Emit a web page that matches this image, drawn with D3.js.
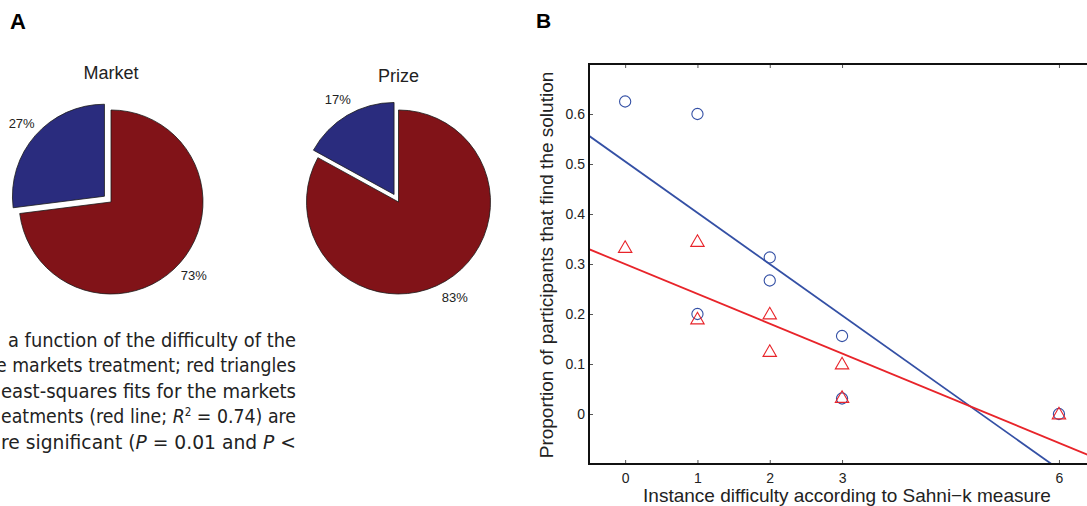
<!DOCTYPE html>
<html>
<head>
<meta charset="utf-8">
<script src="https://cdn.jsdelivr.net/npm/d3@7"></script>
<style>
  body { margin: 0; background: #fff; }
  svg { display: block; font-family: "Liberation Sans", Arial, sans-serif; }
</style>
</head>
<body>
<script>
// panel A: share of participants (blue = found solution, red = did not)
const pieNames = ["Market", "Prize"];
const foundShare = [27, 17];
const notFoundShare = [73, 83];

// panel B: proportion finding the solution vs instance difficulty
const marketDifficulty = [0, 1, 1, 2, 2, 3, 3, 6];
const marketProportion = [0.625, 0.6, 0.2, 0.313, 0.267, 0.156, 0.031, 0];
const prizeDifficulty = [0, 1, 1, 2, 2, 3, 3, 6];
const prizeProportion = [0.333, 0.345, 0.19, 0.2, 0.125, 0.1, 0.033, 0];
// least-squares lines: [intercept, slope]
const marketFit = [0.505, -0.1026];
const prizeFit = [0.2998, -0.0596];

const xTicks = [0, 1, 2, 3, 6];
const yTicks = [0, 0.1, 0.2, 0.3, 0.4, 0.5, 0.6];

const captionLines = [
  "a function of the difficulty of the",
  "e markets treatment; red triangles",
  "east-squares fits for the markets",
  "eatments (red line; R² = 0.74) are",
  "re significant (P = 0.01 and P <"
];

const W = 1087, H = 506;
const svg = d3.select("body").append("svg")
    .attr("width", W)
    .attr("height", H);

svg.append("rect").attr("width", W).attr("height", H).attr("fill", "#fff");

// ---------- panel letters ----------
svg.append("text").attr("x", 10).attr("y", 29)
    .attr("font-size", "22px").attr("font-weight", "bold").text("A");
svg.append("text").attr("x", 536).attr("y", 28)
    .attr("font-size", "21px").attr("font-weight", "bold").text("B");

// ---------- pies ----------
const radius = 92;
const pieCenters = [[111, 202], [398.5, 202]];
const titleY = [79, 82];
const pieColors = ["#811318", "#2a2c7e"];
const explode = 0.095 * radius;

const pie = d3.pie().sort(null);
const arc = d3.arc().innerRadius(0).outerRadius(radius);

pieNames.forEach((name, i) => {
    const [cx, cy] = pieCenters[i];
    const g = svg.append("g").attr("transform", `translate(${cx},${cy})`);
    const arcs = pie([notFoundShare[i], foundShare[i]]);

    arcs.forEach((a, j) => {
        const mid = (a.startAngle + a.endAngle) / 2;
        const off = j === 1 ? explode : 0;
        const dx = Math.sin(mid) * off, dy = -Math.cos(mid) * off;
        g.append("path")
            .attr("d", arc(a))
            .attr("transform", `translate(${dx},${dy})`)
            .attr("fill", pieColors[j])
            .attr("stroke", "#1a1a1a")
            .attr("stroke-width", 0.8);

        const lr = radius * 1.2 + off;
        g.append("text")
            .attr("x", Math.sin(mid) * lr)
            .attr("y", -Math.cos(mid) * lr)
            .attr("dy", "0.35em")
            .attr("text-anchor", "middle")
            .attr("font-size", "13px")
            .attr("fill", "#222")
            .text(`${a.data}%`);
    });

    svg.append("text")
        .attr("x", cx).attr("y", titleY[i])
        .attr("text-anchor", "middle")
        .attr("font-size", "18px")
        .attr("fill", "#222")
        .text(name);
});

// ---------- caption fragment ----------
const capStart = [8, -4, 1, 1, 1];
captionLines.forEach((line, i) => {
    const t = svg.append("text")
        .attr("x", capStart[i])
        .attr("y", 347 + i * 25.4)
        .attr("font-family", "'DejaVu Sans', sans-serif")
        .attr("font-size", "20px")
        .attr("fill", "#222")
        .attr("textLength", 296 - capStart[i])
        .attr("lengthAdjust", "spacingAndGlyphs");
    if (i === 3) {
        t.append("tspan").text("eatments (red line; ");
        t.append("tspan").attr("font-style", "italic").text("R");
        t.append("tspan").attr("baseline-shift", "super").attr("font-size", "12px").text("2");
        t.append("tspan").text(" = 0.74) are");
    } else if (i === 4) {
        t.append("tspan").text("re significant (");
        t.append("tspan").attr("font-style", "italic").text("P");
        t.append("tspan").text(" = 0.01 and ");
        t.append("tspan").attr("font-style", "italic").text("P");
        t.append("tspan").text(" <");
    } else {
        t.text(line);
    }
});

// ---------- scatter panel ----------
const x = d3.scaleLinear().domain([-0.5, 6.5]).range([589, 589 + 7 * 72.3]);
const y = d3.scaleLinear().domain([-0.1, 0.7]).range([464, 64]);

const plot = svg.append("g");
svg.append("clipPath").attr("id", "plotclip")
    .append("rect")
    .attr("x", x(-0.5)).attr("y", y(0.7))
    .attr("width", x(6.5) - x(-0.5)).attr("height", y(-0.1) - y(0.7));

// x ticks (bottom, inward) and top ticks
const xAxis = plot.append("g")
    .attr("transform", `translate(0,${y(-0.1)})`)
    .call(d3.axisBottom(x).tickValues(xTicks).tickFormat(d3.format("d"))
        .tickSizeInner(-4).tickSizeOuter(0).tickPadding(9));
const xTop = plot.append("g")
    .attr("transform", `translate(0,${y(0.7)})`)
    .call(d3.axisTop(x).tickValues(xTicks).tickSizeInner(-4).tickSizeOuter(0).tickFormat(""));
const yAxis = plot.append("g")
    .attr("transform", `translate(${x(-0.5)},0)`)
    .call(d3.axisLeft(y).tickValues(yTicks).tickSizeInner(-4).tickSizeOuter(0).tickPadding(4)
        .tickFormat(d => d === 0 ? "0" : d3.format(".1f")(d)));

[xAxis, xTop, yAxis].forEach(a => {
    a.select(".domain").remove();
    a.selectAll(".tick line").attr("stroke", "#555").attr("stroke-width", 1);
    a.selectAll(".tick text")
        .attr("font-family", "'Liberation Sans', Arial, sans-serif")
        .attr("font-size", "14px")
        .attr("fill", "#222");
});

// fit lines
const fitLine = (fit) => d3.line()
    .x(d => x(d))
    .y(d => y(fit[0] + fit[1] * d));

const lines = plot.append("g").attr("clip-path", "url(#plotclip)");
lines.append("path")
    .attr("d", fitLine(marketFit)([-0.5, 6.5]))
    .attr("fill", "none").attr("stroke", "#3450a5").attr("stroke-width", 1.8);
lines.append("path")
    .attr("d", fitLine(prizeFit)([-0.5, 6.5]))
    .attr("fill", "none").attr("stroke", "#e8242a").attr("stroke-width", 1.8);

// market: blue circles
plot.append("g").selectAll("circle")
    .data(marketDifficulty.map((d, i) => [d, marketProportion[i]]))
    .join("circle")
    .attr("cx", d => x(d[0]))
    .attr("cy", d => y(d[1]))
    .attr("r", 5.6)
    .attr("fill", "none")
    .attr("stroke", "#3450a5")
    .attr("stroke-width", 1.1);

// prize: red triangles
const tri = d3.symbol().type(d3.symbolTriangle).size(78);
plot.append("g").selectAll("path")
    .data(prizeDifficulty.map((d, i) => [d, prizeProportion[i]]))
    .join("path")
    .attr("d", tri)
    .attr("transform", d => `translate(${x(d[0])},${y(d[1]) + 1})`)
    .attr("fill", "none")
    .attr("stroke", "#e8242a")
    .attr("stroke-width", 1.1);

// frame (left, top, bottom)
plot.append("path")
    .attr("d", `M${x(6.5)},${y(0.7)}H${x(-0.5)}V${y(-0.1)}H${x(6.5)}`)
    .attr("fill", "none")
    .attr("stroke", "#111")
    .attr("stroke-width", 2);

// axis titles
svg.append("text")
    .attr("x", 847).attr("y", 502)
    .attr("text-anchor", "middle")
    .attr("font-size", "19px")
    .attr("fill", "#222")
    .text("Instance difficulty according to Sahni\u2212k measure");

svg.append("text")
    .attr("transform", `translate(553,${265}) rotate(-90)`)
    .attr("text-anchor", "middle")
    .attr("font-size", "19px")
    .attr("fill", "#222")
    .text("Proportion of participants that find the solution");
</script>
</body>
</html>
